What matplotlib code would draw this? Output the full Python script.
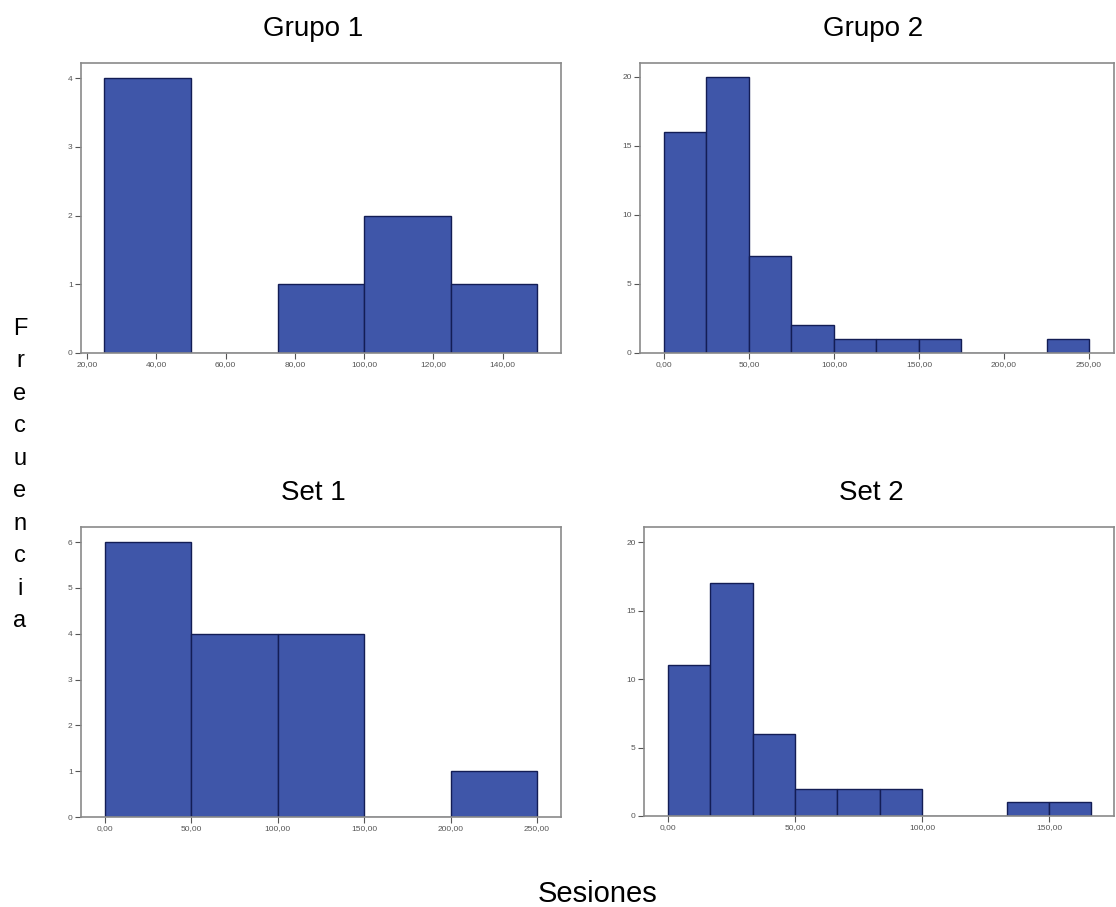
import numpy as np
import matplotlib
matplotlib.use("Agg")
import matplotlib.pyplot as plt
from matplotlib.ticker import FuncFormatter

# ---- data ----
titles = ["Grupo 1", "Grupo 2", "Set 1", "Set 2"]

g1_edges = [25, 50, 75, 100, 125, 150]
g1_counts = [4, 0, 1, 2, 1]

g2_edges = [0, 25, 50, 75, 100, 125, 150, 175, 200, 225, 250]
g2_counts = [16, 20, 7, 2, 1, 1, 1, 0, 0, 1]

s1_edges = [0, 50, 100, 150, 200, 250]
s1_counts = [6, 4, 4, 0, 1]

s2_edges = [0, 100/6, 200/6, 50, 400/6, 500/6, 100, 700/6, 800/6, 150, 1000/6]
s2_counts = [11, 17, 6, 2, 2, 2, 0, 0, 1, 1]

g1_xticks = [20, 40, 60, 80, 100, 120, 140]
g2_xticks = [0, 50, 100, 150, 200, 250]
s1_xticks = [0, 50, 100, 150, 200, 250]
s2_xticks = [0, 50, 100, 150]

g1_yticks = [0, 1, 2, 3, 4]
g2_yticks = [0, 5, 10, 15, 20]
s1_yticks = [0, 1, 2, 3, 4, 5, 6]
s2_yticks = [0, 5, 10, 15, 20]

xlabel = "Sesiones"
ylabel = "Frecuencia"

# ---- style ----
plt.rcParams['font.family'] = ['Liberation Sans', 'DejaVu Sans']
W, H = 1116, 907
fig = plt.figure(figsize=(W / 100, H / 100), dpi=100)
fig.patch.set_facecolor("white")

bar_face = "#3F56A9"
bar_edge = "#131D55"
spine_col = "#8a8a8a"


def px_axes(l, r, t, b):
    return fig.add_axes([l / W, 1 - b / H, (r - l) / W, (b - t) / H])


panels = [
    (px_axes(81, 561, 63, 353), g1_edges, g1_counts, g1_xticks, g1_yticks, (18.3, 156.8), (0, 4.22)),
    (px_axes(640, 1114, 63, 353), g2_edges, g2_counts, g2_xticks, g2_yticks, (-14.1, 264.7), (0, 21.0)),
    (px_axes(81, 561, 527, 817), s1_edges, s1_counts, s1_xticks, s1_yticks, (-13.9, 263.9), (0, 6.33)),
    (px_axes(644, 1114, 527, 816), s2_edges, s2_counts, s2_xticks, s2_yticks, (-9.45, 175.6), (0, 21.1)),
]

fmt = FuncFormatter(lambda v, p: f"{v:.2f}".replace(".", ","))

for ax, edges, counts, xt, yt, xl, yl in panels:
    e = np.asarray(edges, dtype=float)
    ax.bar(e[:-1], counts, width=np.diff(e), align="edge",
           color=bar_face, edgecolor=bar_edge, linewidth=1.0)
    ax.set_xlim(*xl)
    ax.set_ylim(*yl)
    ax.set_xticks(xt)
    ax.set_yticks(yt)
    ax.xaxis.set_major_formatter(fmt)
    ax.tick_params(axis="both", direction="out", length=4, width=0.8,
                   color="#555555", labelsize=6, labelcolor="#555555", pad=2)
    for s in ax.spines.values():
        s.set_color(spine_col)
        s.set_linewidth(1.2)
    ax.set_facecolor("white")

# titles
fig.text(313 / W, 1 - 36 / H, titles[0], ha="center", va="baseline", fontsize=20)
fig.text(873 / W, 1 - 36 / H, titles[1], ha="center", va="baseline", fontsize=20)
fig.text(313 / W, 1 - 500 / H, titles[2], ha="center", va="baseline", fontsize=20)
fig.text(871 / W, 1 - 500 / H, titles[3], ha="center", va="baseline", fontsize=20)

# axis labels
fig.text(598 / W, 1 - 902 / H, xlabel, ha="center", va="baseline", fontsize=21)
fig.text(20 / W, 1 - 475 / H, "\n".join(ylabel), ha="center", va="center",
         fontsize=17, linespacing=1.62)

fig.savefig("out.png", dpi=100, facecolor="white")
